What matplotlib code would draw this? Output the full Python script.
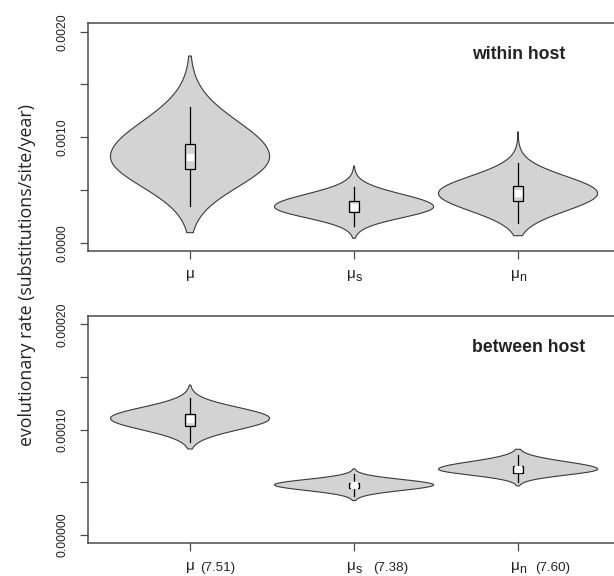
import numpy as np
import matplotlib
matplotlib.use("Agg")
import matplotlib.pyplot as plt

# ---------------- data ----------------
positions = [1, 2, 3]
labels_main = ["μ", "μ", "μ"]
labels_sub = ["", "s", "n"]

# within host
w_lo = [0.000095, 0.0000417, 0.0000664]      # violin lower extent
w_hi = [0.00177, 0.000727, 0.001052]          # violin upper extent
w_mode = [0.000815, 0.000341, 0.000468]       # widest point
w_sd_up = [0.000332, 0.000118, 0.000161]      # spread above the mode
w_sd_dn = [0.000284, 0.000104, 0.000166]      # spread below the mode
w_q1 = [0.000699, 0.000294, 0.000398]
w_q3 = [0.000933, 0.000395, 0.000540]
w_wlo = [0.000348, 0.000158, 0.000184]
w_whi = [0.001283, 0.000531, 0.000758]
w_med = [0.000815, 0.000342, 0.000470]

# between host
b_lo = [0.0000815, 0.0000325, 0.0000464]
b_hi = [0.0001422, 0.0000626, 0.0000812]
b_mode = [0.0001106, 0.0000474, 0.0000623]
b_sd_up = [0.0000104, 0.0000051, 0.0000071]
b_sd_dn = [0.0000109, 0.0000053, 0.0000056]
b_q1 = [0.0001036, 0.0000443, 0.0000585]
b_q3 = [0.0001144, 0.0000496, 0.0000657]
b_wlo = [0.0000885, 0.0000370, 0.0000505]
b_whi = [0.0001302, 0.0000575, 0.0000758]
b_med = [0.0001100, 0.0000470, 0.0000622]
b_extra = ["(7.51)", "(7.38)", "(7.60)"]

top_ticks = [0.0, 0.0005, 0.0010, 0.0015, 0.0020]
top_ticklabels = ["0.0000", "", "0.0010", "", "0.0020"]
bot_ticks = [0.0, 0.00005, 0.00010, 0.00015, 0.00020]
bot_ticklabels = ["0.00000", "", "0.00010", "", "0.00020"]

panel_titles = ["within host", "between host"]
ylabel = "evolutionary rate (substitutions/site/year)"

# ---------------- styling ----------------
W, H, DPI = 614, 576, 100
fig = plt.figure(figsize=(W / DPI, H / DPI), dpi=DPI)
plt.rcParams["font.family"] = ["Liberation Sans", "DejaVu Sans"]

FILL = "#d3d3d3"
EDGE = "#3a3a3a"
SPINE = "#4a4a4a"
HALF_W = 0.485

def px(x0, y0top, x1, y1top):
    return [x0 / W, 1 - y1top / H, (x1 - x0) / W, (y1top - y0top) / H]

ax_top = fig.add_axes(px(88, 23, 614, 251))
ax_bot = fig.add_axes(px(88, 316, 614, 543))

def violin(ax, x, lo, hi, mode, sdu, sdd, q1, q3, wlo, whi, med):
    y = np.linspace(lo, hi, 400)
    s = np.where(y >= mode, sdu, sdd)
    hw = HALF_W * np.exp(-0.5 * ((y - mode) / s) ** 2)
    xs = np.concatenate([x - hw, (x + hw)[::-1]])
    ys = np.concatenate([y, y[::-1]])
    ax.fill(xs, ys, facecolor=FILL, edgecolor=EDGE, linewidth=0.8, zorder=2)
    ax.plot([x, x], [wlo, q1], color="black", lw=0.9, zorder=3)
    ax.plot([x, x], [q3, whi], color="black", lw=0.9, zorder=3)
    bw = 0.031
    ax.add_patch(plt.Rectangle((x - bw, q1), 2 * bw, q3 - q1, facecolor=FILL,
                               edgecolor="black", lw=0.9, zorder=4))
    ax.plot([x], [med], marker="s", ms=3.8, mfc="white", mec="white", zorder=5)

for i, x in enumerate(positions):
    violin(ax_top, x, w_lo[i], w_hi[i], w_mode[i], w_sd_up[i], w_sd_dn[i],
           w_q1[i], w_q3[i], w_wlo[i], w_whi[i], w_med[i])
    violin(ax_bot, x, b_lo[i], b_hi[i], b_mode[i], b_sd_up[i], b_sd_dn[i],
           b_q1[i], b_q3[i], b_wlo[i], b_whi[i], b_med[i])

ax_top.set_ylim(-0.0000787, 0.0020825)
ax_bot.set_ylim(-0.00000787, 0.00020787)
for ax, ticks, tl in [(ax_top, top_ticks, top_ticklabels),
                      (ax_bot, bot_ticks, bot_ticklabels)]:
    ax.set_xlim(0.378, 3.585)
    ax.set_yticks(ticks)
    ax.set_yticklabels(tl, rotation=90, va="center", fontsize=8.8, color="#222222")
    ax.set_xticks(positions)
    ax.set_xticklabels([])
    ax.tick_params(axis="both", direction="out", length=6, width=0.9,
                   color=SPINE, pad=8)
    ax.spines["right"].set_visible(False)
    for sp in ["left", "top", "bottom"]:
        ax.spines[sp].set_color(SPINE)
        ax.spines[sp].set_linewidth(1.1)

# x tick labels (μ with subscripts)
def put_labels(ax, base_y, extra=None):
    for i, x in enumerate(positions):
        sub = labels_sub[i]
        if sub:
            ax.annotate(labels_main[i], xy=(x, base_y), xycoords=("data", "figure pixels"),
                        xytext=(-7, 0), textcoords="offset pixels",
                        ha="left", va="baseline", fontsize=11, color="#222222",
                        annotation_clip=False)
            ax.annotate(sub, xy=(x, base_y), xycoords=("data", "figure pixels"),
                        xytext=(1.5, -3), textcoords="offset pixels",
                        ha="left", va="baseline", fontsize=9, color="#222222",
                        annotation_clip=False)
        else:
            ax.annotate(labels_main[i], xy=(x, base_y), xycoords=("data", "figure pixels"),
                        xytext=(0, 0), textcoords="offset pixels",
                        ha="center", va="baseline", fontsize=11, color="#222222",
                        annotation_clip=False)
        if extra:
            off = 10 if not sub else (19 if sub == "s" else 17)
            ax.annotate(extra[i], xy=(x, base_y), xycoords=("data", "figure pixels"),
                        xytext=(off, -1), textcoords="offset pixels",
                        ha="left", va="baseline", fontsize=9.6, color="#222222",
                        annotation_clip=False)

put_labels(ax_top, H - 278)
put_labels(ax_bot, H - 570, b_extra)

fig.text(472 / W, (H - 59.3) / H, panel_titles[0], fontsize=12.7, fontweight="bold",
         ha="left", va="baseline", color="#222222")
fig.text(472 / W, (H - 351.7) / H, panel_titles[1], fontsize=12.7, fontweight="bold",
         ha="left", va="baseline", color="#222222")

yl = fig.text(27 / W, 1 - 275 / H, ylabel, rotation=90, ha="center", va="center",
              fontsize=13, family=["Open Sans", "DejaVu Sans"], color="#222222")
fig.canvas.draw()
ext = yl.get_window_extent()
yl.set_fontsize(13 * 340.0 / ext.height)

fig.savefig("out.png", dpi=DPI)
